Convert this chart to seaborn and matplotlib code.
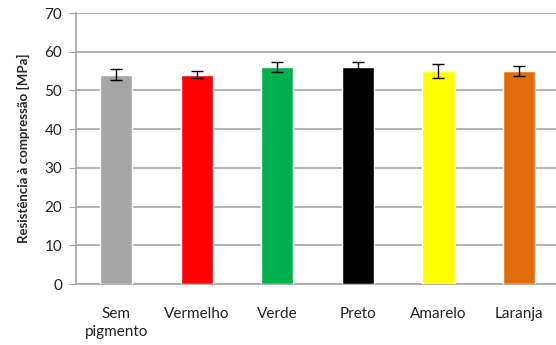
import pandas as pd
import matplotlib
matplotlib.use("Agg")
import matplotlib.pyplot as plt
import seaborn as sns

# Data
categories = ["Sem\npigmento", "Vermelho", "Verde", "Preto", "Amarelo", "Laranja"]
values = [54.1, 54.1, 56.0, 56.1, 55.0, 55.0]
errors = [1.4, 1.0, 1.3, 1.2, 1.7, 1.2]
colors = ["#A5A5A5", "#FF0000", "#00B050", "#000000", "#FFFF00", "#E36C0A"]

data = pd.DataFrame({"Pigmento": categories, "Resistencia": values})

sns.set_style("white")
plt.rcParams["font.family"] = ["Lato", "DejaVu Sans"]

fig = plt.figure(figsize=(5.56, 3.45), dpi=100)
ax = fig.add_axes([0.1367, 0.1768, 0.8633, 0.7855])

sns.barplot(data=data, x="Pigmento", y="Resistencia", hue="Pigmento",
            palette=colors, width=0.4, errorbar=None, legend=False,
            saturation=1, ax=ax, zorder=3)
ax.errorbar(range(len(categories)), values, yerr=errors, fmt="none",
            ecolor="black", elinewidth=1, capsize=4, capthick=1, zorder=4)

ax.set_xlim(-0.5, 5.46)
ax.set_ylim(0, 70)
ax.set_yticks(range(0, 71, 10))
ax.yaxis.grid(True, color="#A6A6A6", linewidth=1.2, zorder=0)
ax.set_axisbelow(True)

for side in ["top", "right"]:
    ax.spines[side].set_visible(False)
for side in ["left", "bottom"]:
    ax.spines[side].set_color("#A6A6A6")
    ax.spines[side].set_linewidth(1.2)

ax.tick_params(axis="y", left=True, length=5, color="#A6A6A6", labelsize=11,
               pad=5, labelcolor="#222222")
ax.tick_params(axis="x", bottom=False, labelsize=11, pad=13, labelcolor="#222222")
for lbl in ax.get_xticklabels():
    lbl.set_linespacing(1.4)

ax.set_xlabel("")
ax.set_ylabel("Resistência à compressão [MPa]", fontsize=9.5, fontweight="bold", labelpad=10)

fig.savefig("out.png", dpi=100)
